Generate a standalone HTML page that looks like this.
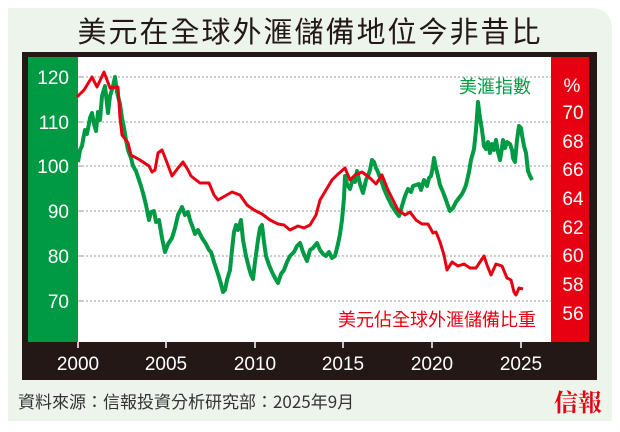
<!DOCTYPE html>
<html><head><meta charset="utf-8"><style>
body{margin:0;width:620px;height:432px;background:#fff;overflow:hidden;font-family:"Liberation Sans","Noto Sans CJK TC",sans-serif}
</style></head><body>
<svg width="620" height="432" xmlns="http://www.w3.org/2000/svg" style="position:absolute;left:0;top:0">
<path d="M8 8 H590 Q612 8 612 30 V421 H8 Z" fill="#edf4ec"/>
<text x="310" y="42" text-anchor="middle" font-size="29" fill="#231815" letter-spacing="2" font-family="Noto Sans CJK TC,sans-serif">美元在全球外滙儲備地位今非昔比</text>
<rect x="22" y="52" width="575" height="328" fill="#231815"/>
<rect x="28" y="57" width="50" height="285" fill="#009a44"/>
<rect x="78" y="57" width="473" height="285" fill="#fff"/>
<rect x="551" y="57" width="38" height="285" fill="#e60012"/>
<g stroke="#999" stroke-dasharray="2,2" stroke-width="1">
<line x1="78" x2="551" y1="77" y2="77"/><line x1="78" x2="551" y1="122" y2="122"/><line x1="78" x2="551" y1="166" y2="166"/><line x1="78" x2="551" y1="211" y2="211"/><line x1="78" x2="551" y1="256" y2="256"/><line x1="78" x2="551" y1="301" y2="301"/>
</g>
<g fill="#fff" font-size="19" text-anchor="end">
<text x="69" y="84">120</text><text x="69" y="129">110</text><text x="69" y="173">100</text><text x="69" y="218">90</text><text x="69" y="263">80</text><text x="69" y="308">70</text>
</g>
<g fill="#fff" font-size="19" text-anchor="middle">
<text x="572" y="92">%</text><text x="573" y="119">70</text><text x="573" y="148">68</text><text x="573" y="176">66</text><text x="573" y="205">64</text><text x="573" y="234">62</text><text x="573" y="262">60</text><text x="573" y="291">58</text><text x="573" y="320">56</text>
</g>
<g stroke="#999" stroke-width="1">
<line x1="78" x2="82" y1="77" y2="77"/><line x1="78" x2="82" y1="122" y2="122"/><line x1="78" x2="82" y1="166" y2="166"/><line x1="78" x2="82" y1="211" y2="211"/><line x1="78" x2="82" y1="256" y2="256"/><line x1="78" x2="82" y1="301" y2="301"/>
</g>
<g stroke="#fff" stroke-width="1.5">
<line x1="78" x2="78" y1="342" y2="348"/><line x1="166" x2="166" y1="342" y2="348"/><line x1="255" x2="255" y1="342" y2="348"/><line x1="343" x2="343" y1="342" y2="348"/><line x1="432" x2="432" y1="342" y2="348"/><line x1="521" x2="521" y1="342" y2="348"/>
</g>
<g fill="#fff" font-size="19" text-anchor="middle">
<text x="78" y="370">2000</text><text x="166" y="370">2005</text><text x="255" y="370">2010</text><text x="343" y="370">2015</text><text x="432" y="370">2020</text><text x="521" y="370">2025</text>
</g>
<polyline fill="none" stroke="#009a44" stroke-width="4" stroke-linejoin="round" points="78,162 80,150 82,146 83,140 85,130 87,134 90,118 92,113 94,124 96,131 98,112 100,120 102,96 105,86 107,104 108,113 110,96 113,86 115,77 117,92 120,104 122,118 124,128 126,140 128,150 131,158 133,166 136,171 139,180 141,186 143,193 146,205 149,220 151,212 154,211 156,222 159,220 162,238 165,252 168,244 172,238 175,228 178,215 182,207 185,215 188,212 190,220 193,228 195,234 198,230 202,238 206,244 209,250 211,252 214,262 218,274 221,284 223,292 225,290 227,280 230,270 232,250 234,232 236,225 238,230 241,220 243,240 246,256 249,268 251,275 253,279 255,262 258,240 260,228 262,225 264,242 266,256 269,265 272,272 275,278 278,283 281,274 284,270 287,262 290,256 294,252 297,246 300,243 303,252 307,261 310,250 313,248 317,243 320,250 323,254 326,256 329,252 332,258 335,256 338,244 340,234 342,220 344,198 345,176 347,184 350,189 353,178 355,182 357,171 360,184 363,193 366,180 368,176 370,170 372,160 374,162 376,168 378,172 381,180 384,189 388,198 392,206 396,212 399,216 402,206 405,196 408,189 411,192 413,186 416,185 419,184 421,190 424,180 427,186 429,178 431,176 433,166 434,158 436,168 438,176 440,185 443,192 446,200 448,206 450,211 453,208 456,202 459,198 462,194 464,190 466,185 469,172 471,160 474,149 476,130 478,102 480,118 482,130 484,146 486,149 488,142 490,153 492,144 494,150 496,140 498,152 500,160 502,148 503,140 505,148 507,142 510,144 512,150 513,158 515,162 517,140 519,126 521,128 522,135 524,146 526,153 527,162 528,171 530,176 532,180"/>
<polyline fill="none" stroke="#e60012" stroke-width="3" stroke-linejoin="round" points="77,97 84,90 92,77 97,87 104,72 110,88 118,87 120,118 122,135 128,143 131,155 140,160 149,166 152,172 155,170 158,153 162,150 166,160 172,176 178,168 183,162 188,170 191,176 200,183 209,183 214,195 218,200 225,196 232,192 240,195 247,205 254,210 262,214 270,220 278,224 284,225 290,230 298,226 304,228 310,225 316,215 320,200 326,190 332,180 337,175 345,168 350,180 355,175 362,172 370,178 376,184 382,175 388,190 393,200 398,210 405,215 410,212 416,220 422,224 428,224 433,233 436,232 440,242 444,255 447,270 452,262 458,266 464,264 470,268 476,268 484,256 487,265 491,275 496,264 502,266 507,278 511,280 514,292 516,295 519,288 523,289"/>
<text x="531" y="93" text-anchor="end" font-size="18" fill="#009a44" font-family="Noto Sans CJK TC,sans-serif">美滙指數</text>
<text x="536" y="326" text-anchor="end" font-size="18" fill="#e60012" font-family="Noto Sans CJK TC,sans-serif">美元佔全球外滙儲備比重</text>
<text x="18" y="408" font-size="17" fill="#333" font-family="Noto Sans CJK TC,sans-serif">資料來源：信報投資分析研究部：2025年9月</text>
<text x="602" y="411" text-anchor="end" font-size="24" font-weight="bold" fill="#e60012" font-family="Noto Serif CJK SC,serif">信報</text>
</svg>
</body></html>
